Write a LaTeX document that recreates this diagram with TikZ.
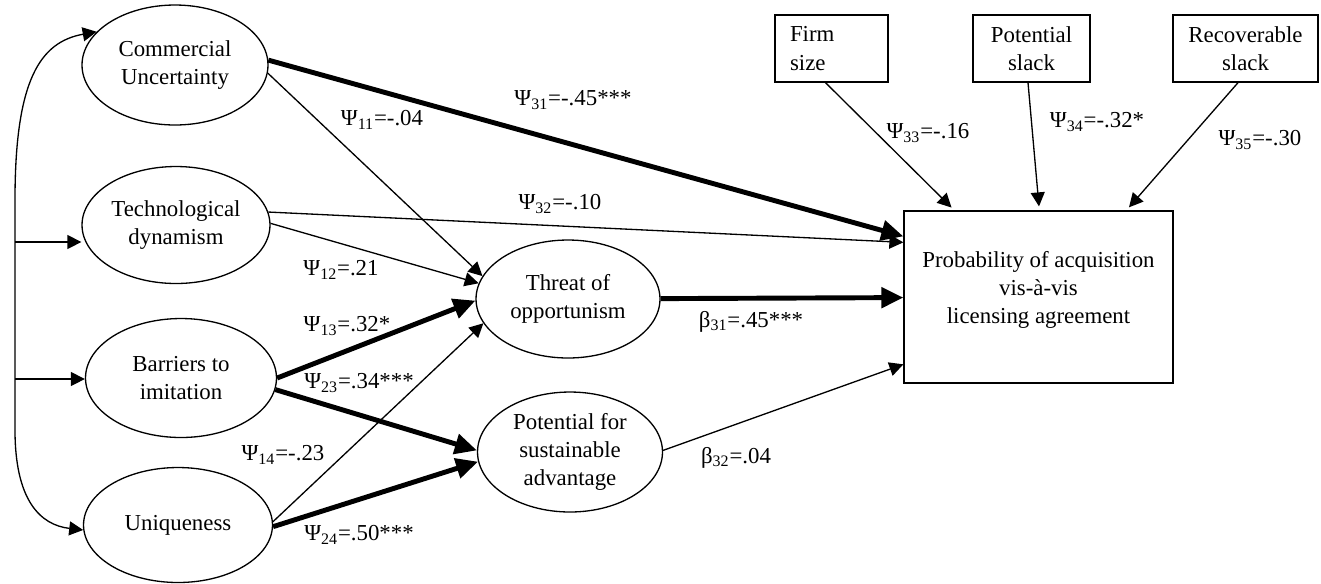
\documentclass[tikz,border=0pt]{standalone}
\usepackage{fontspec}
\setmainfont{Liberation Serif}
\usetikzlibrary{arrows.meta,positioning,shapes.geometric}

\begin{document}
\begin{tikzpicture}[
  x=0.02cm, y=-0.02cm,
  font=\fontsize{13}{16}\selectfont,
  latent/.style={draw, ellipse, line width=0.75pt, inner sep=0pt, align=center},
  obsbox/.style={draw, rectangle, line width=0.75pt, minimum height=1.34cm, inner sep=0pt, align=center},
  thinarrow/.style={line width=0.75pt, -{Triangle[length=0.28cm, width=0.28cm]}},
  thickarrow/.style={line width=2.8pt, -{Triangle[length=0.44cm, width=0.4cm]}},
  corr/.style={line width=0.75pt, {Triangle[length=0.28cm, width=0.28cm]}-{Triangle[length=0.28cm, width=0.28cm]}},
  coef/.style={inner sep=0pt}
]
  \useasboundingbox (0,0) rectangle (1321,583);

  % Exogenous constructs
  \node[latent, minimum width=3.72cm, minimum height=2.4cm] (cu) at (175,65) {Commercial\\Uncertainty};
  \node[latent, minimum width=3.76cm, minimum height=2.34cm] (td) at (176,225) {Technological\\dynamism};
  \node[latent, minimum width=3.82cm, minimum height=2.38cm] (bi) at (181,378) {Barriers to\\imitation};
  \node[latent, minimum width=3.78cm, minimum height=2.3cm] (un) at (178,525) {Uniqueness};

  % Mediating constructs
  \node[latent, minimum width=3.68cm, minimum height=2.36cm] (threat) at (568,299) {Threat of\\opportunism};
  \node[latent, minimum width=3.7cm, minimum height=2.4cm] (psa) at (570,452) {Potential for\\sustainable\\advantage};

  % Outcome and controls
  \node[draw, line width=0.75pt, minimum width=5.38cm, minimum height=3.44cm] (prob) at (1038.5,297) {};
  \node[align=center] (probtext) at (1038.5,290) {Probability of acquisition\\vis-à-vis\\licensing agreement};
  \node[obsbox, text width=1.66cm, inner xsep=0.3cm, align=left] (firm) at (831.5,48.5) {Firm\\size};
  \node[obsbox, minimum width=2.34cm] (pslack) at (1031.5,48.5) {Potential\\slack};
  \node[obsbox, minimum width=2.9cm] (rslack) at (1245.5,48.5) {Recoverable\\slack};

  % Correlations among exogenous constructs
  \coordinate (tdin) at (15,242);
  \coordinate (biin) at (15,379);
  \draw[corr] (cu.157) .. controls (40,42) and (15,80) .. (15,200) -- (15,430) .. controls (15,500) and (40,525) .. (un.183);
  \draw[thinarrow] (tdin) -- (tdin -| td.west);
  \draw[thinarrow] (biin) -- (biin -| bi.west);

  % Paths to threat of opportunism
  \draw[thinarrow] (cu.-5) -- (threat.165);
  \draw[thinarrow] (td.1) -- (threat.170);
  \draw[thickarrow] (bi.0) -- (threat.181);
  \draw[thinarrow] (un.2) -- (threat.196);

  % Paths to potential for sustainable advantage
  \draw[thickarrow] (bi.-7) -- (psa.179);
  \draw[thickarrow] (un.-1) -- (psa.186);

  % Paths to probability of acquisition
  \draw[thickarrow] (cu.3) -- ([yshift=-0.52cm]prob.north west);
  \draw[thinarrow] (td.8) -- ([yshift=-0.64cm]prob.north west);
  \draw[thickarrow] (threat) -- (prob);
  \draw[thinarrow] (psa.1) -- ([yshift=-3.08cm]prob.north west);
  \draw[thinarrow, shorten >=0.08cm] ([xshift=-0.12cm]firm.south) -- ([xshift=1.02cm]prob.north west);
  \draw[thinarrow, shorten >=0.08cm] ([xshift=-0.07cm]pslack.south) -- ([xshift=2.72cm]prob.north west);
  \draw[thinarrow, shorten >=0.08cm] ([xshift=-0.15cm]rslack.south) -- ([xshift=4.46cm]prob.north west);

  % Coefficients
  \node[coef] (c31) at (573,100) {Ψ\textsubscript{31}=-.45***};
  \node[coef] (c11) at (382,120) {Ψ\textsubscript{11}=-.04};
  \node[coef] (c32) at (560,204) {Ψ\textsubscript{32}=-.10};
  \node[coef] (c12) at (341,270) {Ψ\textsubscript{12}=.21};
  \node[coef] (c13) at (347,326) {Ψ\textsubscript{13}=.32*};
  \node[coef] (c23) at (359,383) {Ψ\textsubscript{23}=.34***};
  \node[coef] (c14) at (283,455) {Ψ\textsubscript{14}=-.23};
  \node[coef] (c24) at (359,535) {Ψ\textsubscript{24}=.50***};
  \node[coef] (b31) at (751,322) {β\textsubscript{31}=.45***};
  \node[coef] (b32) at (736,458) {β\textsubscript{32}=.04};
  \node[coef] (c33) at (928,133) {Ψ\textsubscript{33}=-.16};
  \node[coef] (c34) at (1097,122) {Ψ\textsubscript{34}=-.32*};
  \node[coef] (c35) at (1260,140) {Ψ\textsubscript{35}=-.30};
\end{tikzpicture}
\end{document}
